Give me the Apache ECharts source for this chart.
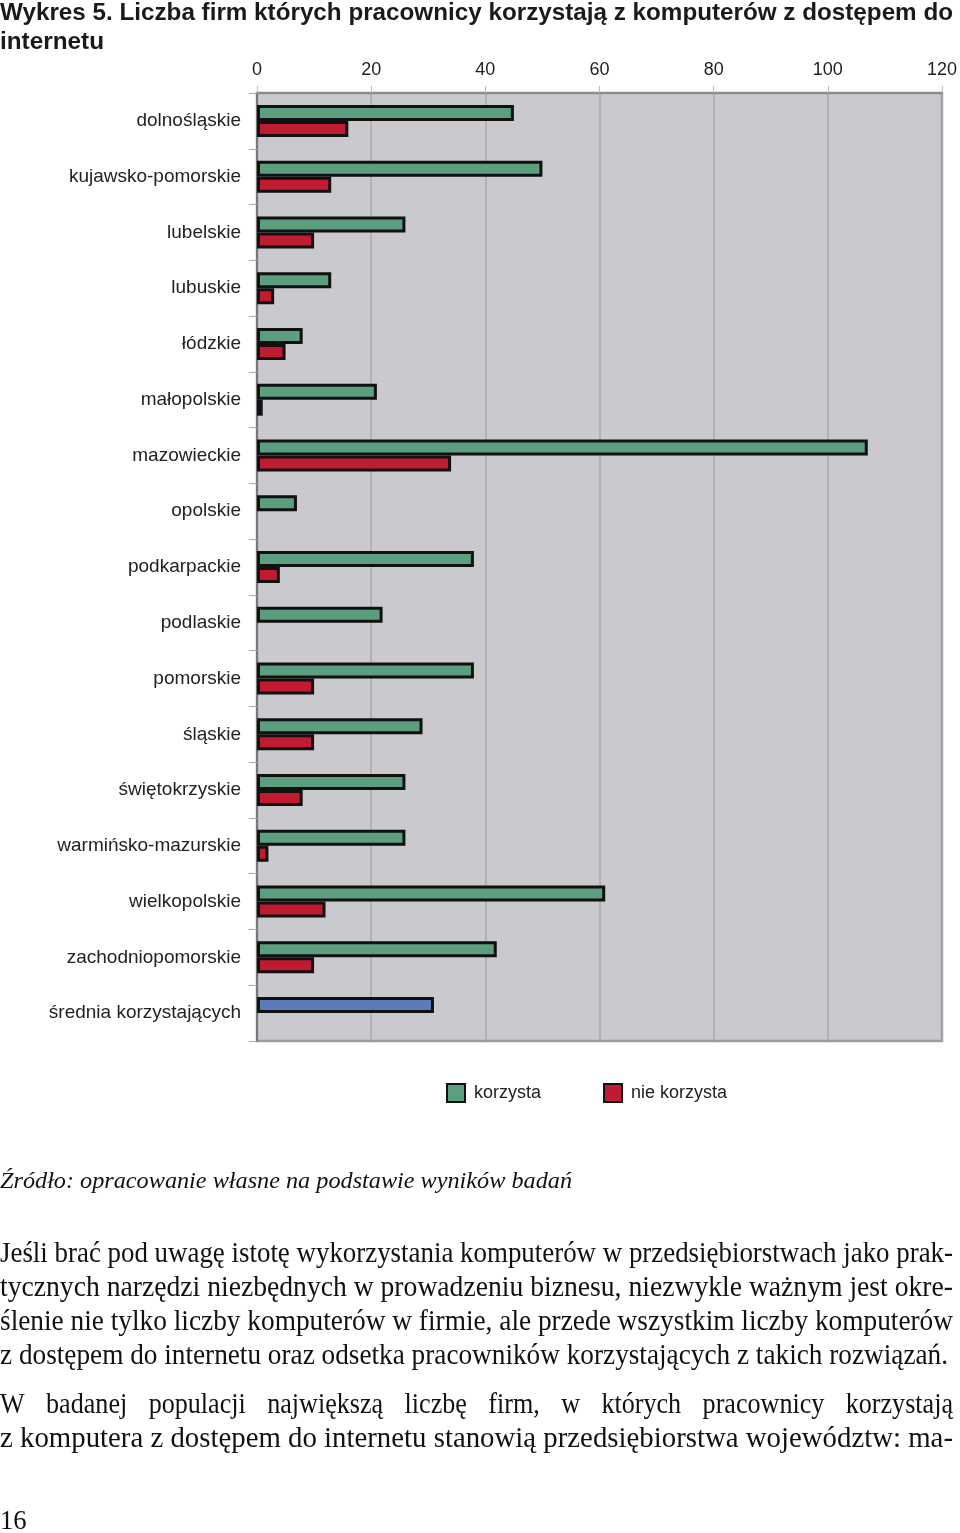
<!DOCTYPE html>
<html><head><meta charset="utf-8">
<script src="https://cdn.jsdelivr.net/npm/echarts@6/dist/echarts.min.js"></script>
<style>html,body{margin:0;padding:0;background:#fff}#c{width:960px;height:1533px}</style>
</head><body><div id="c"></div>
<script>
const categories = ['dolnośląskie','kujawsko-pomorskie','lubelskie','lubuskie','łódzkie','małopolskie','mazowieckie','opolskie','podkarpackie','podlaskie','pomorskie','śląskie','świętokrzyskie','warmińsko-mazurskie','wielkopolskie','zachodniopomorskie','średnia korzystających'];
const korzysta = [45,50,26,13,8,21,107,7,38,22,38,29,26,26,61,42,31];
const nieKorzysta = [16,13,10,3,5,1,34,null,4,null,10,10,8,2,12,10,null];
const xTicks = {min:0, max:120, interval:20};
const seriesNames = ['korzysta','nie korzysta'];
const titleLines = ['Wykres 5. Liczba firm których pracownicy korzystają z komputerów z dostępem do','internetu'];
const sourceText = 'Źródło: opracowanie własne na podstawie wyników badań';
const para1 = ['Jeśli brać pod uwagę istotę wykorzystania komputerów w przedsiębiorstwach jako prak-','tycznych narzędzi niezbędnych w prowadzeniu biznesu, niezwykle ważnym jest okre-','ślenie nie tylko liczby komputerów w firmie, ale przede wszystkim liczby komputerów','z dostępem do internetu oraz odsetka pracowników korzystających z takich rozwiązań.'];
const para2 = ['W badanej populacji największą liczbę firm, w których pracownicy korzystają','z komputera z dostępem do internetu stanowią przedsiębiorstwa województw: ma-'];
const pageNo = '16';

const GREEN='#5b9f7f', RED='#c01b30', BLUE='#5b7bb9';
const ctx = document.createElement('canvas').getContext('2d');
function meas(t,font){ctx.font=font;return ctx.measureText(t).width;}
const graphics=[];
function fitLine(text,font,x,y,W,fill){
  const w=meas(text,font);
  graphics.push({type:'text',x:x,y:y,scaleX:W/w,style:{text:text,font:font,fill:fill||'#111',textVerticalAlign:'middle',x:0,y:0}});
}
function justify(text,font,x,y,W,sx){
  const words=text.split(' ');
  const ws=words.map(t=>meas(t,font)*sx);
  const sum=ws.reduce((a,b)=>a+b,0);
  const gap=(W-sum)/(words.length-1);
  if(gap<4){fitLine(text,font,x,y,W);return;}
  let cx=x;
  words.forEach((t,i)=>{graphics.push({type:'text',x:cx,y:y,scaleX:sx,style:{text:t,font:font,fill:'#111',textVerticalAlign:'middle',x:0,y:0}});cx+=ws[i]+gap;});
}
function plain(text,font,x,y,sx){
  graphics.push({type:'text',x:x,y:y,scaleX:sx,style:{text:text,font:font,fill:'#111',textVerticalAlign:'middle',x:0,y:0}});
}
const SANS='"Liberation Sans", Arial, sans-serif';
const SERIF='"Liberation Serif", "Times New Roman", serif';
fitLine(titleLines[0],'bold 24px '+SANS,0,13,953,'#1a1a1a');
fitLine(titleLines[1],'bold 24px '+SANS,0,42,104,'#1a1a1a');
fitLine(sourceText,'italic 23px '+SERIF,0,1182,572);
const paraFont='29px '+SERIF;
fitLine(para1[0],paraFont,0,1254,953);
fitLine(para1[1],paraFont,0,1288,953);
fitLine(para1[2],paraFont,0,1322,953);
fitLine(para1[3],paraFont,0,1356,948);
justify(para2[0],paraFont,0,1405,953,0.9);
fitLine(para2[1],paraFont,0,1439,953);
plain(pageNo,'28px '+SERIF,0,1522,0.95);

const chart=echarts.init(document.getElementById('c'));
const kData=korzysta.map((v,i)=> i===korzysta.length-1 ? {value:v,itemStyle:{color:BLUE}} : v);
chart.setOption({
  animation:false,
  backgroundColor:'#fff',
  grid:{left:257,right:15,top:93,bottom:492,show:true,backgroundColor:'#c9c9ce',borderColor:'#9c9c9c',borderWidth:2.5},
  legend:{data:seriesNames,left:441,top:1078,itemWidth:18,itemHeight:18,itemGap:62,textStyle:{fontSize:18,color:'#222',fontFamily:SANS,padding:[0,0,0,4]},icon:'rect'},
  xAxis:{type:'value',position:'top',min:xTicks.min,max:xTicks.max,interval:xTicks.interval,
    axisLine:{show:true,lineStyle:{color:'#8a8a8a',width:2}},
    axisTick:{show:true,length:7,lineStyle:{color:'#bbb'}},
    axisLabel:{fontSize:18,color:'#222',margin:14,fontFamily:SANS},
    splitLine:{show:true,lineStyle:{color:'#a9a9ad',width:1.5}}},
  yAxis:{type:'category',data:categories,inverse:true,
    axisLine:{show:true,lineStyle:{color:'#777',width:2}},
    axisTick:{show:true,length:8,lineStyle:{color:'#aaa'}},
    axisLabel:{fontSize:19,color:'#222',margin:16,fontFamily:SANS}},
  series:[
    {name:seriesNames[0],type:'bar',data:kData,barWidth:16,barGap:'0%',itemStyle:{color:GREEN,borderColor:'#111',borderWidth:3}},
    {name:seriesNames[1],type:'bar',data:nieKorzysta,barWidth:16,itemStyle:{color:RED,borderColor:'#111',borderWidth:3}}
  ],
  graphic:graphics
});
</script></body></html>
